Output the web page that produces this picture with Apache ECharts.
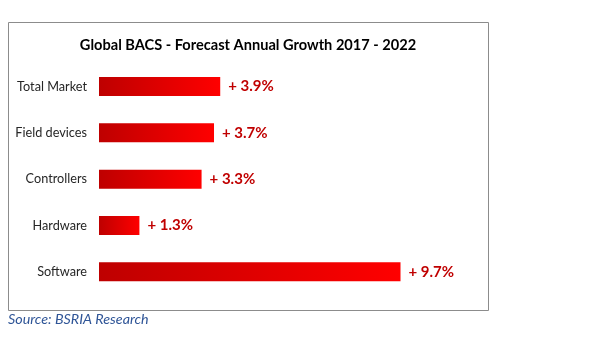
<!DOCTYPE html>
<html><head><meta charset="utf-8">
<script src="https://cdn.jsdelivr.net/npm/echarts@6/dist/echarts.min.js"></script>
<style>html,body{margin:0;padding:0;background:#fff}#c{width:604px;height:339px}</style>
</head><body><div id="c"></div>
<script>
const categories = ['Total Market', 'Field devices', 'Controllers', 'Hardware', 'Software'];
const growth = [3.9, 3.7, 3.3, 1.3, 9.7];
const titleText = 'Global BACS - Forecast Annual Growth 2017 - 2022';
const sourceText = 'Source: BSRIA Research';

const chart = echarts.init(document.getElementById('c'), null, {renderer: 'canvas'});
chart.setOption({
  animation: false,
  backgroundColor: '#fff',
  title: {
    text: titleText, left: 243, top: 33, textAlign: 'center',
    textStyle: {fontFamily: 'Lato', fontSize: 14.6, fontWeight: 'bold', color: '#000'}
  },
  graphic: [
    {type: 'rect', shape: {x: 8.5, y: 22.5, width: 480, height: 288}, style: {fill: 'none', stroke: '#8c8c8c', lineWidth: 1}, silent: true},
    {type: 'text', left: 8, top: 312, style: {text: sourceText, fill: '#2F5597', font: 'italic 14.3px Lato'}}
  ],
  grid: {left: 99, top: 63.4, width: 373, height: 231.5, containLabel: false},
  xAxis: {type: 'value', min: 0, max: 12, show: false},
  yAxis: {
    type: 'category', data: categories, inverse: true,
    axisLine: {show: false}, axisTick: {show: false},
    axisLabel: {margin: 12, color: '#262626', fontFamily: 'Lato', fontSize: 12.7}
  },
  series: [{
    type: 'bar', data: growth, barWidth: 19,
    itemStyle: {color: new echarts.graphic.LinearGradient(0, 0, 1, 0, [{offset: 0, color: '#BE0000'}, {offset: 1, color: '#FF0000'}], false)},
    label: {
      show: true, position: 'right', distance: 8,
      formatter: p => '+ ' + p.value.toFixed(1) + '%',
      color: '#C00000', fontFamily: 'Lato', fontWeight: 'bold', fontSize: 15
    }
  }]
});
</script></body></html>
